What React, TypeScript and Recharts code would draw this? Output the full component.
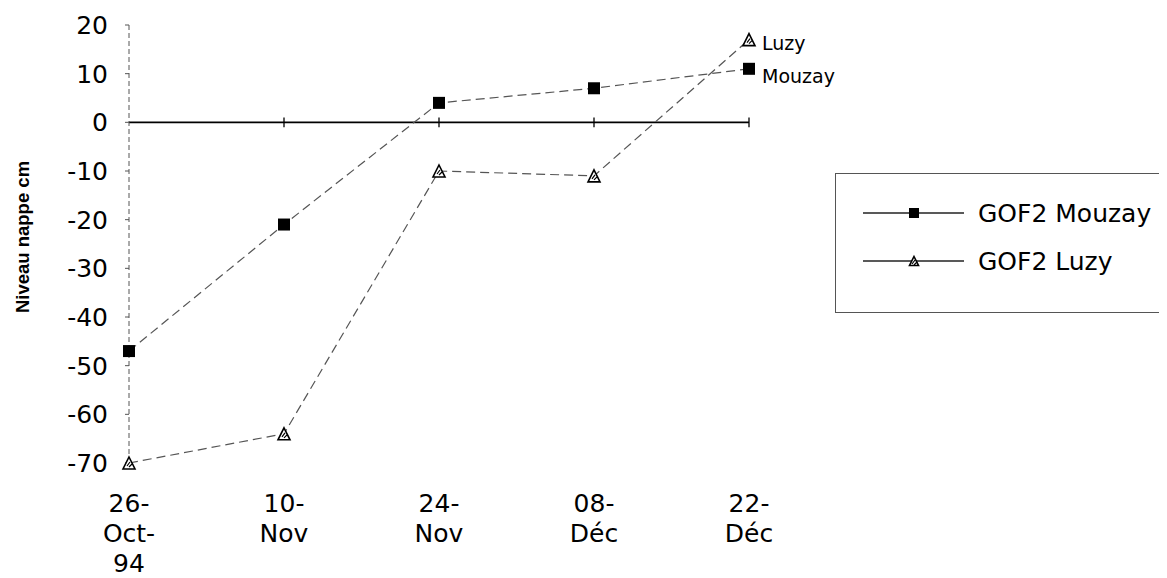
import { LabelList, Line, LineChart, ReferenceLine, XAxis, YAxis } from "recharts";

const dates = ["26-Oct-94", "10-Nov", "24-Nov", "08-Déc", "22-Déc"];
const mouzay = [-47, -21, 4, 7, 11];
const luzy = [-70, -64, -10, -11, 17];
const yTicks = [-70, -60, -50, -40, -30, -20, -10, 0, 10, 20];
const seriesNames = ["GOF2 Mouzay", "GOF2 Luzy"];

const FONT = "'DejaVu Sans', sans-serif";

const rows = dates.map((d, i) => ({ date: d, mouzay: mouzay[i], luzy: luzy[i] }));

function Square({ cx, cy, size = 12 }: any) {
  if (cx == null || cy == null) return null;
  return <rect x={cx - size / 2} y={cy - size / 2} width={size} height={size} fill="#000" />;
}

function Tri({ cx, cy, size = 12 }: any) {
  if (cx == null || cy == null) return null;
  const h = size;
  const w = size;
  return (
    <g>
      <path
        d={`M${cx},${cy - h / 2} L${cx + w / 2},${cy + h / 2} L${cx - w / 2},${cy + h / 2} Z`}
        fill="#fff"
        stroke="#000"
        strokeWidth={1.6}
      />
      <path d={`M${cx - 2},${cy + 3} L${cx + 1},${cy - 1} M${cx},${cy + 4} L${cx + 3},${cy + 1}`} stroke="#000" strokeWidth={1.2} />
    </g>
  );
}

function DateTick({ x, y, payload }: any) {
  const parts = String(payload.value).split("-");
  const lines = parts.map((p, i) => (i < parts.length - 1 ? p + "-" : p));
  return (
    <text x={x} y={y + 49} textAnchor="middle" fontFamily={FONT} fontSize={25} fill="#000">
      {lines.map((l, i) => (
        <tspan key={i} x={x} dy={i === 0 ? 0 : 30}>
          {l}
        </tspan>
      ))}
    </text>
  );
}

function endLabel(name: string, dy: number) {
  return (props: any) => {
    const { x, y, index } = props;
    if (index !== dates.length - 1) return null;
    return (
      <text x={x + 13} y={y + dy} fontFamily={FONT} fontSize={19} fill="#000" dominantBaseline="central">
        {name}
      </text>
    );
  };
}

function LegendBox() {
  return (
    <div
      style={{
        position: "absolute",
        left: 827,
        top: 165,
        width: 340,
        height: 140,
        border: "1px solid #555",
        boxSizing: "border-box",
        fontFamily: FONT,
        fontSize: 25,
        background: "#fff",
      }}
    >
      {seriesNames.map((name, i) => (
        <div
          key={name}
          style={{ position: "absolute", left: 0, top: 39 + i * 48 - 16, height: 32, display: "flex", alignItems: "center" }}
        >
          <svg width={140} height={32} style={{ display: "block" }}>
            <line x1={27} y1={16} x2={128} y2={16} stroke="#222" strokeWidth={1.3} />
            {i === 0 ? <Square cx={78} cy={16} size={10} /> : <Tri cx={78} cy={16} size={9} />}
          </svg>
          <span style={{ marginLeft: 2, whiteSpace: "nowrap", color: "#000" }}>{name}</span>
        </div>
      ))}
    </div>
  );
}

export default function App() {
  return (
    <div style={{ position: "relative", width: 1159, height: 570 }}>
      <LineChart
        width={1159}
        height={570}
        data={rows}
        margin={{ top: 17, right: 418, bottom: 15, left: 41 }}
      >
        <XAxis
          dataKey="date"
          axisLine={false}
          tickLine={false}
          tickSize={0}
          tickMargin={0}
          height={100}
          interval={0}
          tick={<DateTick />}
        />
        <YAxis
          domain={[-70, 20]}
          ticks={yTicks}
          interval={0}
          width={80}
          axisLine={{ stroke: "#555", strokeDasharray: "5 3" }}
          tickLine={{ stroke: "#555" }}
          tickSize={4}
          tickMargin={17}
          tick={{ fontFamily: FONT, fontSize: 25, fill: "#000" }}
          label={{
            value: "Niveau nappe cm",
            angle: -90,
            position: "insideLeft",
            dx: -32,
            dy: -7,
            style: { fontFamily: "'Liberation Sans', Arial, sans-serif", fontWeight: "bold", fontSize: 18.5, fill: "#000", textAnchor: "middle" },
          }}
        />
        <ReferenceLine y={0} stroke="#000" strokeWidth={1.6} />
        {dates.slice(1).map((d) => (
          <ReferenceLine
            key={d}
            segment={[
              { x: d, y: -1 },
              { x: d, y: 1 },
            ]}
            stroke="#000"
            strokeWidth={1.3}
          />
        ))}
        <Line
          type="linear"
          dataKey="mouzay"
          name={seriesNames[0]}
          stroke="#555"
          strokeWidth={1.2}
          strokeDasharray="9 5"
          dot={<Square />}
          activeDot={false}
          isAnimationActive={false}
        >
          <LabelList dataKey="mouzay" content={endLabel("Mouzay", 7)} />
        </Line>
        <Line
          type="linear"
          dataKey="luzy"
          name={seriesNames[1]}
          stroke="#555"
          strokeWidth={1.2}
          strokeDasharray="9 5"
          dot={<Tri />}
          activeDot={false}
          isAnimationActive={false}
        >
          <LabelList dataKey="luzy" content={endLabel("Luzy", 3)} />
        </Line>
      </LineChart>
      <LegendBox />
    </div>
  );
}
